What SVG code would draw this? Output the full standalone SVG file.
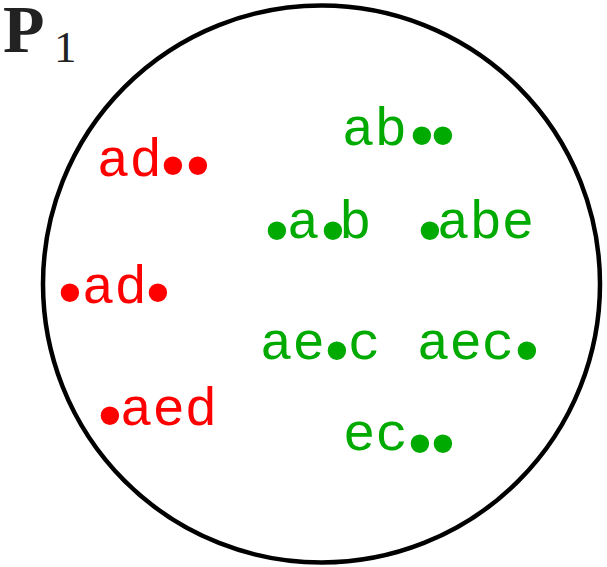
<svg xmlns="http://www.w3.org/2000/svg" width="607" height="567" viewBox="0 0 607 567">
<style>
.t{font-family:"Liberation Mono","Courier New",monospace;font-size:54px}
.r{fill:#ff0000}
.g{fill:#00aa00}
.b{font-family:"Liberation Sans",sans-serif;font-size:68px;text-anchor:middle}
</style>
<rect width="607" height="567" fill="#fff"/>
<g id="title">
<text x="3" y="52" font-family="Liberation Serif,serif" font-weight="bold" font-size="68" fill="#222">P</text>
<text x="54" y="62" font-family="Liberation Serif,serif" font-size="45" fill="#222">1</text>
</g>
<g id="set">
<circle cx="321.5" cy="284" r="278.5" fill="none" stroke="#000" stroke-width="4.5"/>
</g>
<g id="n1"><text class="t r" y="176"><tspan x="97">ad</tspan><tspan class="b" x="173" y="188">•</tspan><tspan class="b" x="198" y="188">•</tspan></text></g>
<g id="n2"><text class="t r" y="303"><tspan class="b" x="70" y="315">•</tspan><tspan x="82" y="303">ad</tspan><tspan class="b" x="158" y="315">•</tspan></text></g>
<g id="n3"><text class="t r" y="425"><tspan class="b" x="110" y="438">•</tspan><tspan x="120" y="425">aed</tspan></text></g>
<g id="n4"><text class="t g" y="145"><tspan x="342">ab</tspan><tspan class="b" x="422" y="158">•</tspan><tspan class="b" x="443" y="158">•</tspan></text></g>
<g id="n5"><text class="t g" y="238"><tspan class="b" x="277" y="253">•</tspan><tspan x="287" y="238">a</tspan><tspan class="b" x="333" y="253">•</tspan><tspan x="339" y="238">b</tspan></text></g>
<g id="n6"><text class="t g" y="238"><tspan class="b" x="430" y="253">•</tspan><tspan x="437" y="238">abe</tspan></text></g>
<g id="n7"><text class="t g" y="359"><tspan x="260">ae</tspan><tspan class="b" x="337" y="373">•</tspan><tspan x="348" y="359">c</tspan></text></g>
<g id="n8"><text class="t g" y="359"><tspan x="417">aec</tspan><tspan class="b" x="527" y="373">•</tspan></text></g>
<g id="n9"><text class="t g" y="450"><tspan x="343">ec</tspan><tspan class="b" x="420" y="466">•</tspan><tspan class="b" x="443" y="466">•</tspan></text></g>
</svg>
